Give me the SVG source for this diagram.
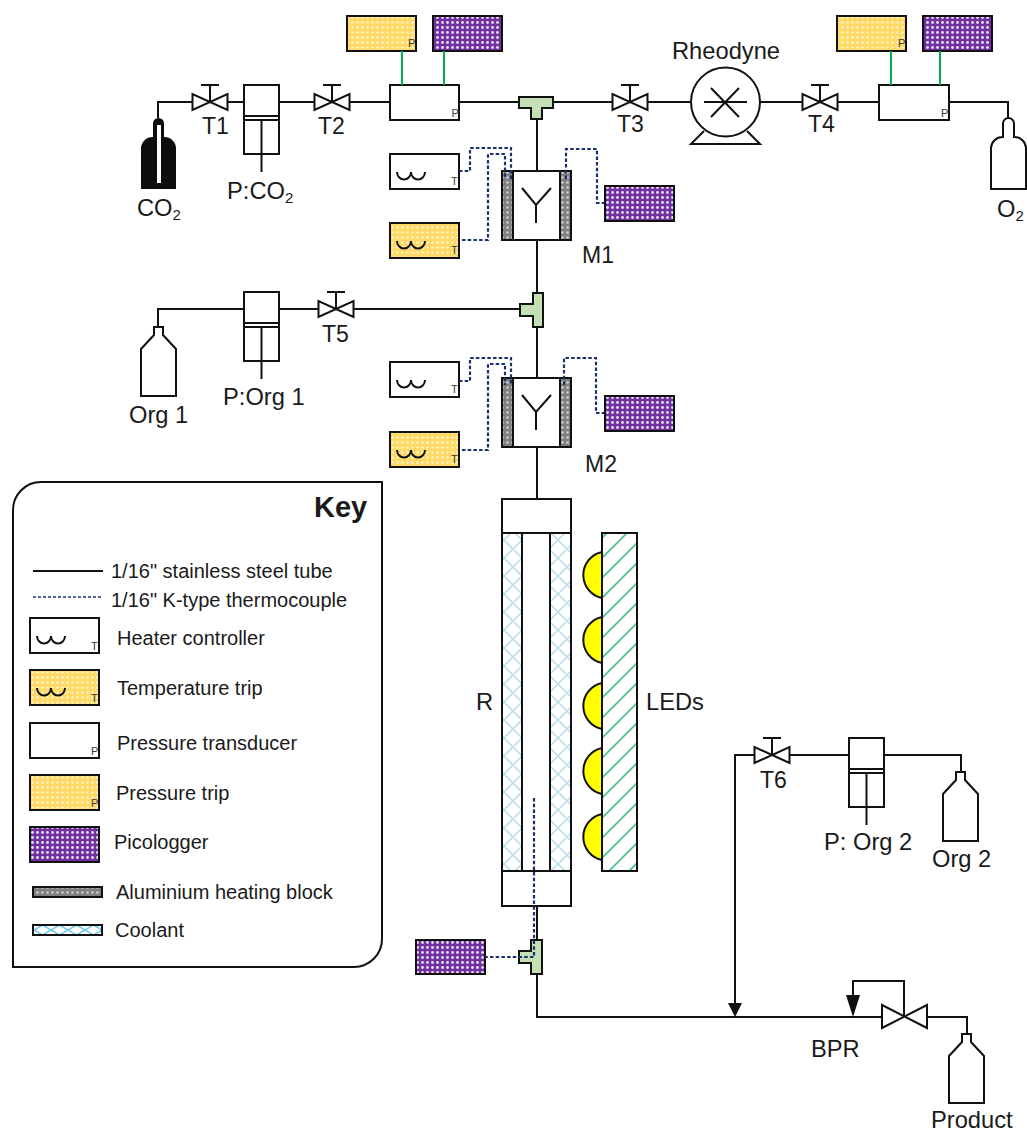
<svg xmlns="http://www.w3.org/2000/svg" width="1027" height="1131" viewBox="0 0 1027 1131">
<style>
text{font-family:"Liberation Sans",Arial,sans-serif;fill:#1a1a1a}
.l{font-size:23.700px}.h{font-size:23px}.k{font-size:20px}.s{font-size:15px}
.m{font-size:11px;fill:#3a3a3a}
.b{stroke:#111;stroke-width:2;fill:#fff}
.n{stroke:#111;stroke-width:2;fill:none}
.w{fill:#fff;stroke:#111;stroke-width:2}
.y{fill:url(#dy);stroke:#111;stroke-width:2}
.v{fill:url(#dp);stroke:#111;stroke-width:2}
.g{fill:url(#dg);stroke:#111;stroke-width:2}
.c{fill:url(#xh);stroke:#111;stroke-width:2}
.tc{stroke:#17306e;stroke-width:2.200;stroke-dasharray:3.500 2.200;fill:none}
.gr{stroke:#00b050;stroke-width:2;fill:none}
.tee{fill:#c5e0b4;stroke:#111;stroke-width:2}
</style>
<defs>
<pattern id="dy" width="5" height="5" patternUnits="userSpaceOnUse"><rect width="5" height="5" fill="#ffd966"/><circle cx="2.500" cy="2.500" r="1.300" fill="#fff3c4"/></pattern>
<pattern id="dp" width="5" height="5" patternUnits="userSpaceOnUse"><rect width="5" height="5" fill="#7030a0"/><circle cx="2.500" cy="2.500" r="1.400" fill="#ecdff5"/></pattern>
<pattern id="dg" width="5" height="5" patternUnits="userSpaceOnUse"><rect width="5" height="5" fill="#808080"/><circle cx="2.500" cy="2.500" r="1.300" fill="#d0d0d0"/></pattern>
<pattern id="xh" width="18" height="18" patternUnits="userSpaceOnUse"><rect width="18" height="18" fill="#fff"/><path d="M0 0L18 18M18 0L0 18" stroke="#bfe0ea" stroke-width="1.600"/></pattern>
<pattern id="xk" width="17" height="10" patternUnits="userSpaceOnUse"><rect width="17" height="10" fill="#fff"/><path d="M0 0L17 10M17 0L0 10" stroke="#5cc6ee" stroke-width="1.400" fill="none"/></pattern>
<pattern id="hg" width="20" height="20" patternUnits="userSpaceOnUse"><rect width="20" height="20" fill="#fff"/><path d="M-2 22L22 -2M-2 2L2 -2M18 22L22 18" stroke="#4cc38a" stroke-width="1.700" fill="none"/></pattern>
<g id="valve"><path class="b" d="M-17.500 -8V8L17.500 -8V8Z"/><path class="n" d="M0 0V-17M-9 -17H9"/></g>
<g id="pump"><rect class="w" width="35" height="69"/><path class="n" d="M0 31H35M0 35H35M17.500 35V87"/></g>
<path id="bottle" class="b" d="M-4.500 0H4.500V8L17.500 22V69H-17.500V22L-4.500 8Z"/>
<path id="cyl" d="M-5.500 5.500A5.500 5.500 0 0 1 5.500 5.500V19H6A11.500 11.500 0 0 1 17.500 30V71H-17.500V30A11.500 11.500 0 0 1 -6 19H-5.500Z"/>
<path id="coilp" class="n" d="M0 0a7 7.500 0 0 0 14 0a7 7.500 0 0 0 14 0"/>
</defs>
<g id="tee1"><path class="tee" d="M519 97H553V108H542V119H531V108H519Z"/></g>
<g id="tee2"><path class="tee" d="M533 293H543V327H533V316H520V304H533Z"/></g>
<g id="tee3"><path class="tee" d="M531 940H542V974H531V963H519V951H531Z"/></g>
<g id="v1"><use href="#valve" x="210" y="102"/><text class="h" x="202" y="134">T1</text></g>
<g id="v2"><use href="#valve" x="332" y="102"/><text class="h" x="318" y="134">T2</text></g>
<g id="v3"><use href="#valve" x="630" y="102"/><text class="h" x="617" y="132">T3</text></g>
<g id="v4"><use href="#valve" x="820" y="102"/><text class="h" x="808" y="132">T4</text></g>
<g id="v5"><use href="#valve" x="336" y="309"/><text class="h" x="322" y="342">T5</text></g>
<g id="v6"><use href="#valve" x="772" y="755"/><text class="h" x="760" y="788">T6</text></g>
<g id="co2"><use href="#cyl" x="158.500" y="118" fill="#0d0d0d"/><rect x="157" y="125" width="4" height="58" fill="#fff"/><text class="l" x="137" y="216">CO<tspan class="s" dy="4">2</tspan></text></g>
<g id="o2"><use href="#cyl" x="1008.500" y="118" class="b"/><text class="l" x="997" y="217">O<tspan class="s" dy="4">2</tspan></text></g>
<g id="pco2"><use href="#pump" x="244" y="85"/><text class="l" x="227" y="199">P:CO<tspan class="s" dy="4">2</tspan></text></g>
<g id="porg1"><use href="#pump" x="244" y="292"/><text class="l" x="223" y="405">P:Org 1</text></g>
<g id="porg2"><use href="#pump" x="849" y="738"/><text class="l" x="824" y="850">P: Org 2</text></g>
<g id="org1"><use href="#bottle" x="158.500" y="327"/><text class="l" x="129" y="423">Org 1</text></g>
<g id="org2"><use href="#bottle" x="960.500" y="772"/><text class="l" x="932" y="867">Org 2</text></g>
<g id="product"><use href="#bottle" x="966.500" y="1034"/><text class="l" x="931" y="1128">Product</text></g>
<g id="pt1"><rect class="w" x="390" y="85" width="69" height="35"/><text class="m" x="451.500" y="116.500">P</text></g>
<g id="pt2"><rect class="w" x="879" y="85" width="70" height="35"/><text class="m" x="941" y="116.500">P</text></g>
<g id="ptrip1"><rect class="y" x="347" y="16" width="69" height="35"/><text class="m" x="408" y="47">P</text></g>
<g id="ptrip2"><rect class="y" x="837" y="16" width="69" height="35"/><text class="m" x="898" y="47">P</text></g>
<g id="pico1"><rect class="v" x="433" y="16" width="69" height="35"/></g>
<g id="pico2"><rect class="v" x="923" y="16" width="69" height="35"/></g>
<g id="pico3"><rect class="v" x="605" y="186" width="69" height="35"/></g>
<g id="pico4"><rect class="v" x="605" y="396" width="69" height="35"/></g>
<g id="pico5"><rect class="v" x="416" y="940" width="69" height="34"/></g>
<g id="rheodyne"><path class="n" d="M704 131L691 144H760L747 131"/><circle class="w" cx="725.500" cy="102" r="34.500"/><path class="n" d="M704 102H747M711 88L739 117M739 88L711 117"/><text class="l" x="672" y="59">Rheodyne</text></g>
<g id="hc1"><rect class="w" x="390" y="154" width="69" height="35"/><use href="#coilp" x="397" y="172"/><text class="m" x="451" y="185">T</text></g>
<g id="tt1"><rect class="y" x="390" y="223" width="69" height="35"/><use href="#coilp" x="397" y="241"/><text class="m" x="451" y="254">T</text></g>
<g id="hc2"><rect class="w" x="390" y="362" width="69" height="35"/><use href="#coilp" x="397" y="380"/><text class="m" x="451" y="393">T</text></g>
<g id="tt2"><rect class="y" x="390" y="432" width="69" height="35"/><use href="#coilp" x="397" y="450"/><text class="m" x="451" y="463">T</text></g>
<g id="m1"><rect class="w" x="502" y="171" width="69" height="69"/><rect class="g" x="502" y="171" width="11" height="69"/><rect class="g" x="560" y="171" width="11" height="69"/><path class="n" d="M522 188L536 205L551 188M536 205V223"/><text class="h" x="582" y="263">M1</text></g>
<g id="m2"><rect class="w" x="502" y="378" width="69" height="69"/><rect class="g" x="502" y="378" width="11" height="69"/><rect class="g" x="560" y="378" width="11" height="69"/><path class="n" d="M522 395L536 412L551 395M536 412V430"/><text class="h" x="585" y="472">M2</text></g>
<g id="reactor">
<rect class="c" x="502" y="533" width="69" height="338"/>
<rect class="w" x="522" y="533" width="28" height="338"/>
<rect class="w" x="502" y="499" width="69" height="34"/>
<rect class="w" x="502" y="871" width="69" height="35"/>
<text class="l" x="476" y="710">R</text>
</g>
<g id="leds">
<path class="n" style="fill:#ff0" d="M602 552A23.500 23.500 0 0 0 602 598ZM602 617A23.500 23.500 0 0 0 602 663ZM602 683A23.500 23.500 0 0 0 602 729ZM602 748A23.500 23.500 0 0 0 602 794ZM602 814A23.500 23.500 0 0 0 602 860Z"/>
<rect x="602" y="533" width="35" height="338" fill="url(#hg)" stroke="#111" stroke-width="2"/>
<text class="l" x="646" y="710">LEDs</text>
</g>
<g id="bpr"><path class="b" d="M882 1005V1028L927 1005V1028Z"/><text class="l" x="811" y="1057">BPR</text></g>
<g id="connectors">
<path class="n" d="M158 118V102H192M227 102H244M279 102H314M349 102H390M459 102H519M537 119V171M537 240V293M553 102H613M648 102H691M760 102H802M837 102H879M949 102H1008V118"/>
<path class="n" d="M158 327V309H244M279 309H319M354 309H520M537 327V378M537 447V499M537 906V940M537 974V1017H882M927 1017H967V1034"/>
<path class="n" d="M789 755H849M884 755H961V772M754 755H735V1003M904 1017V981H853V995"/>
<path d="M728 1003H742L735 1017ZM846 995H860L853 1017Z" fill="#111"/>
<path class="gr" d="M402 51V85M444 51V85M891 51V85M940 51V85"/>
<path class="tc" d="M459 171H470V148H511V179M462 240H488V154H505V179M566 179V149H597V203H604"/>
<path class="tc" d="M459 381H470V358H511V385M462 450H488V364H505V385M564 385V358H596V413H604"/>
<path class="tc" d="M534 798V957H485"/>
</g>
<g id="key">
<path class="n" d="M41 482H382V939A28 28 0 0 1 354 967H13V510A28 28 0 0 1 41 482Z"/>
<text x="314" y="517" font-size="29" font-weight="bold">Key</text>
<path class="n" d="M33 571H103"/><path class="tc" style="stroke-width:1.500;stroke-dasharray:3 2" d="M33 597H103"/>
<text class="k" x="111" y="578">1/16" stainless steel tube</text>
<text class="k" x="111" y="607">1/16" K-type thermocouple</text>
<rect class="w" x="30" y="618" width="69" height="35"/><use href="#coilp" x="37" y="636"/><text class="m" x="91" y="650">T</text>
<text class="k" x="117" y="645">Heater controller</text>
<rect class="y" x="30" y="670" width="69" height="35"/><use href="#coilp" x="37" y="688"/><text class="m" x="91" y="702">T</text>
<text class="k" x="117" y="695">Temperature trip</text>
<rect class="w" x="30" y="723" width="69" height="35"/><text class="m" x="91" y="755">P</text>
<text class="k" x="117" y="750">Pressure transducer</text>
<rect class="y" x="30" y="775" width="69" height="35"/><text class="m" x="91" y="807">P</text>
<text class="k" x="116" y="800">Pressure trip</text>
<rect class="v" x="30" y="827" width="69" height="35"/>
<text class="k" x="114" y="849">Picologger</text>
<rect class="g" x="33" y="887" width="69" height="10"/>
<text class="k" x="116" y="899">Aluminium heating block</text>
<rect x="33" y="925" width="69" height="10" fill="url(#xk)" stroke="#111" stroke-width="2"/>
<text class="k" x="115" y="937">Coolant</text>
</g>
</svg>
